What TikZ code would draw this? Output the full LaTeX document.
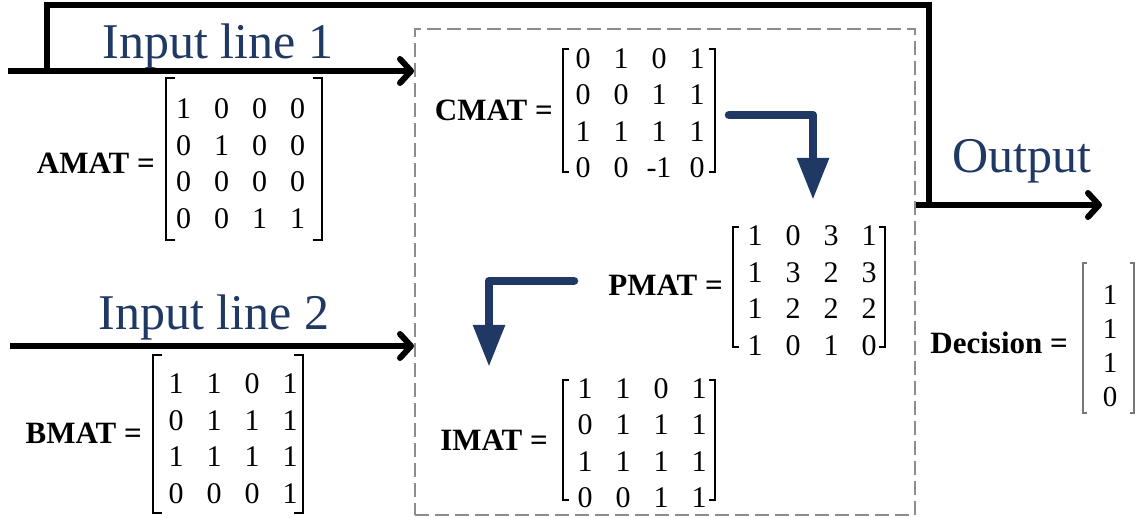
\documentclass[tikz,border=0pt]{standalone}
\usepackage{fontspec}
\setmainfont{Liberation Serif}
\usetikzlibrary{matrix,arrows.meta}
\definecolor{navy}{HTML}{1F3864}
\definecolor{boxgray}{HTML}{8C8C8C}
\definecolor{brkgray}{HTML}{777777}
\newcommand{\mbrack}[6][]{%
  \draw[brk,#1] ({#2+#6},#4) -- (#2,#4) -- (#2,#5) -- ({#2+#6},#5);
  \draw[brk,#1] ({#3-#6},#4) -- (#3,#4) -- (#3,#5) -- ({#3-#6},#5);}
\tikzset{
  mat/.style={matrix of nodes, inner sep=0pt, column sep=0pt, row sep=0pt,
    nodes={font=\fontsize{30}{32}\selectfont, minimum width=38pt,
      minimum height=36.5pt, inner sep=0pt, anchor=center}},
  decmat/.style={matrix of nodes, inner sep=0pt, column sep=0pt, row sep=0pt,
    nodes={font=\fontsize{29}{31}\selectfont, minimum width=30pt,
      minimum height=34pt, inner sep=0pt, anchor=center}},
  lab/.style={font=\fontsize{31}{33}\selectfont\bfseries, inner sep=0pt, anchor=east},
  bigtext/.style={font=\fontsize{50}{60}\selectfont, text=navy, inner sep=0pt, anchor=base},
  brk/.style={line width=2pt, line join=miter},
  blackline/.style={line width=6pt},
  blackarrow/.style={line width=6pt, -{Straight Barb[length=11pt,width=24pt,round]}},
  bluearrow/.style={navy, line width=8.5pt, line cap=round, line join=round,
    -{Triangle[length=42pt,width=30pt]}},
  procbox/.style={draw=boxgray, line width=2pt, dash pattern=on 14pt off 6pt,
    minimum width=500pt, minimum height=486pt, inner sep=0pt}
}
\begin{document}
\begin{tikzpicture}[x=1pt,y=-1pt]
\useasboundingbox (0,0) rectangle (1144,518);

% processing box
\node[procbox] (proc) at (665,272) {};

% texts
\node[bigtext] (t1) at (218,59) {Input line 1};
\node[bigtext] (t2) at (214,330) {Input line 2};
\node[bigtext] (t3) at (1022,173) {Output};

% matrices
\matrix[mat] (A) at (240.5,163.5) {1 & 0 & 0 & 0\\ 0 & 1 & 0 & 0\\ 0 & 0 & 0 & 0\\ 0 & 0 & 1 & 1\\};
\matrix[mat] (B) at (233,438.5) {1 & 1 & 0 & 1\\ 0 & 1 & 1 & 1\\ 1 & 1 & 1 & 1\\ 0 & 0 & 0 & 1\\};
\matrix[mat] (C) at (640,113) {0 & 1 & 0 & 1\\ 0 & 0 & 1 & 1\\ 1 & 1 & 1 & 1\\ 0 & 0 & -1 & 0\\};
\matrix[mat] (P) at (812,290.5) {1 & 0 & 3 & 1\\ 1 & 3 & 2 & 3\\ 1 & 2 & 2 & 2\\ 1 & 0 & 1 & 0\\};
\matrix[mat] (I) at (642,443) {1 & 1 & 0 & 1\\ 0 & 1 & 1 & 1\\ 1 & 1 & 1 & 1\\ 0 & 0 & 1 & 1\\};
\matrix[decmat] (D) at (1110,346) {1\\ 1\\ 1\\ 0\\};

% labels
\node[lab] (la) at (155,163) {AMAT =};
\node[lab] (lb) at (142,433) {BMAT =};
\node[lab] (lc) at (553,110) {CMAT =};
\node[lab] (lp) at (723,285) {PMAT =};
\node[lab] (li) at (548,440) {IMAT =};
\node[lab] (ld) at (1068,343) {Decision =};

% brackets
\mbrack{166}{322}{78}{240}{9}
\mbrack{153}{303}{355}{513}{9}
\mbrack{563}{715}{49}{172}{6}
\mbrack{733}{885}{227}{347}{6}
\mbrack{563}{715}{380}{500}{6}
\mbrack[line width=1.2pt, draw=brkgray]{1083}{1134}{263}{413}{4}

% black connectors
\coordinate (in1s) at (8,71);
\coordinate (in2s) at (10,346);
\coordinate (fb) at (47,71);
\coordinate (topl) at (47,5);
\coordinate (topr) at (929,5);
\coordinate (outj) at (929,205);
\coordinate (oute) at (1102,205);
\draw[blackarrow] (in1s) -- (in1s -| proc.west);
\draw[blackarrow] (in2s) -- (in2s -| proc.west);
\draw[blackline] (fb) -- (topl) -- (topr) -- (outj);
\draw[blackarrow] (proc.east |- outj) -- (oute);

% blue flow arrows
\coordinate (b1s) at (729,115);
\coordinate (b1k) at (813,115);
\coordinate (b1e) at (813,200);
\coordinate (b2s) at (574,281);
\coordinate (b2k) at (489,281);
\coordinate (b2e) at (489,367);
\draw[bluearrow] (b1s) -- (b1k) -- (b1e);
\draw[bluearrow] (b2s) -- (b2k) -- (b2e);
\end{tikzpicture}
\end{document}
